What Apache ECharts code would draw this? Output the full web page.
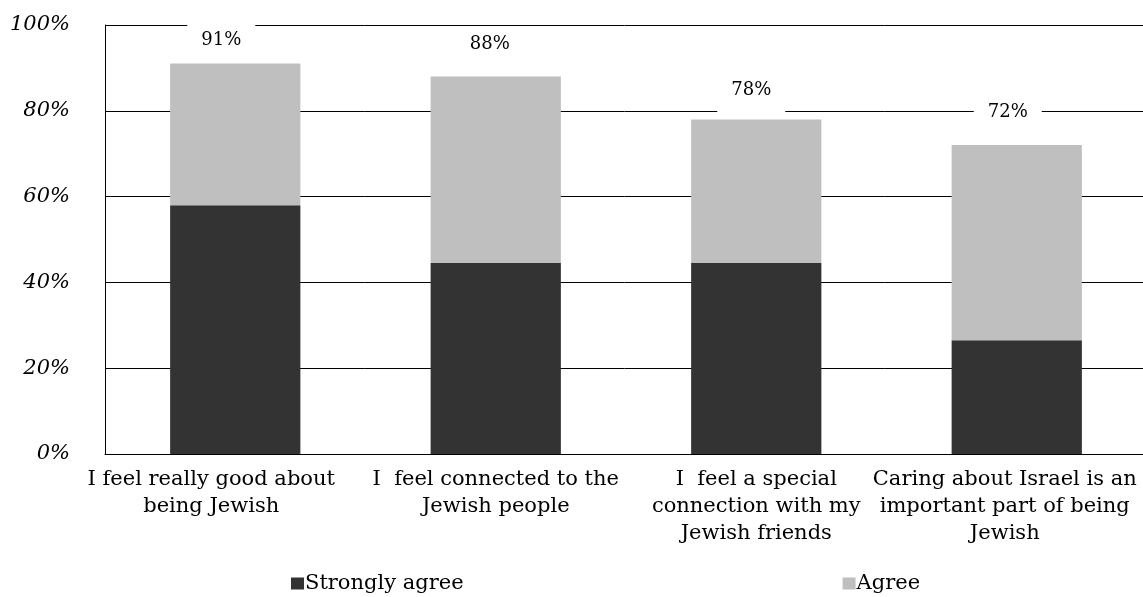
<!DOCTYPE html>
<html><head><meta charset="utf-8">
<script src="https://cdn.jsdelivr.net/npm/echarts@6/dist/echarts.min.js"></script>
<style>html,body{margin:0;padding:0;background:#fff}#c{width:1143px;height:597px}</style>
</head><body><div id="c"></div>
<script>
const categories = [
  "I feel really good about\nbeing Jewish",
  "I  feel connected to the\nJewish people",
  "I  feel a special\nconnection with my\nJewish friends",
  "Caring about Israel is an\nimportant part of being\nJewish"
];
const stronglyAgree = [58, 44.5, 44.5, 26.5];
const agree = [33, 43.5, 33.5, 45.5];
const totals = [91, 88, 78, 72];
const yTicks = [0, 20, 40, 60, 80, 100];

const FONT = "'Book Antiqua','Palatino Linotype',Palatino,'DejaVu Serif',serif";
// style only: label nudges to mimic the original placement
const labelPads = [[0, 48, 0, 0], [0, 0, 0, 0], [0, 0, 0, 0], [0, 24, 0, 0]];
const totalLabelOffsets = [[-14, 2], [-6, 3], [-5, 6], [-9, 2]];
const totalLabelPads = [[9, 14, 4, 14], [5, 14, 14, 14], [5, 14, 14, 14], [5, 14, 14, 14]];
const axisData = categories.map((c, i) => ({value: c, textStyle: {padding: labelPads[i]}}));
const agreeData = agree.map((v, i) => ({value: v, label: {offset: totalLabelOffsets[i], padding: totalLabelPads[i]}}));

const chart = echarts.init(document.getElementById('c'), null, {renderer: 'canvas'});
chart.setOption({
  animation: false,
  backgroundColor: '#fff',
  grid: {left: 105, right: -4, top: 25, bottom: 143, containLabel: false, outerBoundsMode: 'none'},
  legend: {
    left: 286, top: 568, itemGap: 379, itemWidth: 13, itemHeight: 12,
    icon: 'rect',
    textStyle: {fontFamily: FONT, fontSize: 21, color: '#000', padding: [0, 0, 0, -4]},
    data: ['Strongly agree', 'Agree']
  },
  xAxis: {
    type: 'category', data: axisData,
    axisLine: {lineStyle: {color: '#000', width: 1}},
    axisTick: {show: false},
    axisLabel: {fontFamily: FONT, fontSize: 21, color: '#000', lineHeight: 27, margin: 12, interval: 0}
  },
  yAxis: {
    type: 'value', min: yTicks[0], max: yTicks[yTicks.length - 1], interval: 20,
    axisLine: {show: true, lineStyle: {color: '#000', width: 1}},
    axisTick: {show: false},
    splitLine: {lineStyle: {color: '#000', width: 1}},
    axisLabel: {fontFamily: FONT, fontSize: 21, fontStyle: 'italic', color: '#000', margin: 35,
      formatter: v => v + '%'}
  },
  series: [
    {name: 'Strongly agree', type: 'bar', stack: 's', data: stronglyAgree, barCategoryGap: '50%',
     itemStyle: {color: '#333333'}},
    {name: 'Agree', type: 'bar', stack: 's', data: agreeData,
     itemStyle: {color: '#BFBFBF'},
     label: {show: true, position: 'top', distance: 12,
       formatter: p => totals[p.dataIndex] + '%',
       fontFamily: FONT, fontSize: 18, color: '#000',
       backgroundColor: '#fff', padding: [5, 14, 14, 14]}}
  ]
});
</script></body></html>
